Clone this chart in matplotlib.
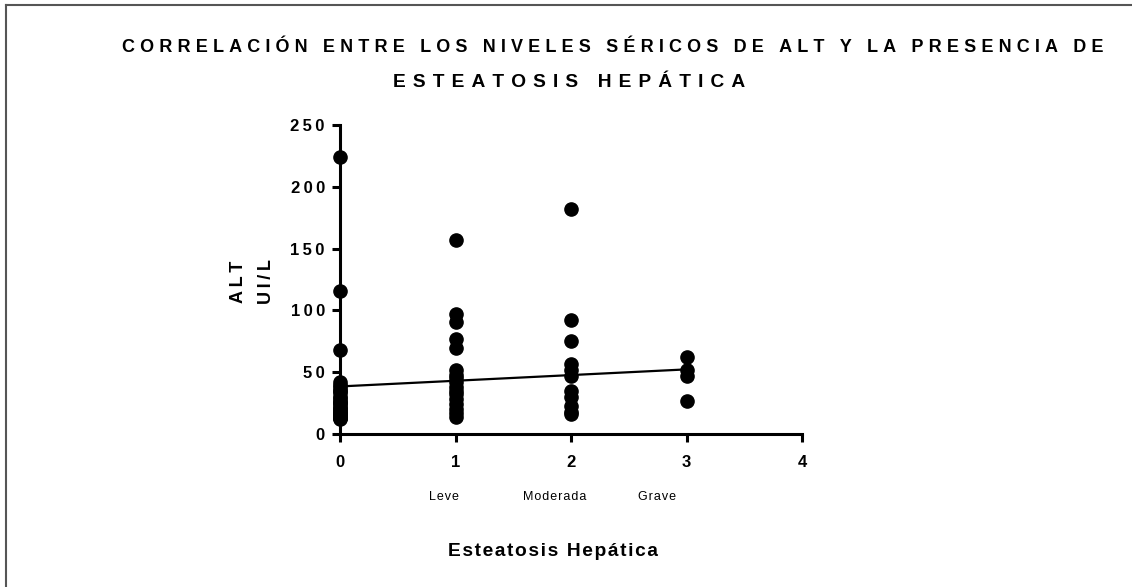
import matplotlib
matplotlib.use("Agg")
import numpy as np
from matplotlib import pyplot as plt
from matplotlib.lines import Line2D

# ALT (UI/L), one list per grade of steatosis
grade_0 = [224, 116, 68, 42, 40, 38, 36, 35, 33, 30, 29, 27, 26, 25, 24, 22, 21, 20, 19,
           18, 17, 16, 15, 14, 13, 13, 12]
grade_1 = [157, 97, 91, 77, 70, 52, 48, 45, 42, 38, 35, 32, 28, 24, 20, 17, 14]
grade_2 = [182, 92, 75, 57, 52, 47, 35, 30, 23, 18, 16]
grade_3 = [62, 52, 47, 27]
groups = [grade_0, grade_1, grade_2, grade_3]

# regression line as drawn in the picture
fit_intercept = 38.5
fit_slope = 4.6

x_ticks = [0, 1, 2, 3, 4]
y_ticks = [0, 50, 100, 150, 200, 250]
grade_names = ["Leve", "Moderada", "Grave"]
grade_name_pos = [0.9, 1.86, 2.74]

title_lines = ["CORRELACIÓN ENTRE LOS NIVELES SÉRICOS DE ALT Y LA PRESENCIA DE",
               "ESTEATOSIS HEPÁTICA"]

plt.rcParams["font.family"] = ["Liberation Sans", "DejaVu Sans"]


def spaced(s, gap="\u2009"):
    # prism style letter spacing
    return gap.join(s)


fig = plt.figure(figsize=(11.32, 5.87), dpi=100)
ax = fig.add_axes([0.3004, 0.2606, 0.4081, 0.5264])

for i, vals in enumerate(groups):
    ax.plot([i] * len(vals), vals, "o", color="black", markersize=9.5, clip_on=False)

xs = np.array([0, 3])
ax.plot(xs, fit_intercept + fit_slope * xs, color="black", lw=1.6)

ax.set_xlim(0, 4)
ax.set_ylim(0, 250)
ax.set_xticks(x_ticks)
ax.set_yticks(y_ticks)
ax.set_xticklabels([spaced(str(t)) for t in x_ticks])
ax.set_yticklabels([spaced(str(t)) for t in y_ticks])
for s in ["top", "right"]:
    ax.spines[s].set_visible(False)
for s in ["left", "bottom"]:
    ax.spines[s].set_linewidth(2.2)
ax.tick_params(width=2.2, length=6, direction="out", labelsize=12, pad=5)
for lab in ax.get_xticklabels() + ax.get_yticklabels():
    lab.set_fontweight("bold")
ax.tick_params(axis="x", pad=9)

for name, pos in zip(grade_names, grade_name_pos):
    ax.text(pos, -0.205, spaced(name, "\u200a"), transform=ax.get_xaxis_transform(),
            ha="center", va="center", fontsize=9)

fig.text(0.4885, 0.06, spaced("Esteatosis Hepática", "\u200a"), ha="center", va="center",
         fontsize=13.8, fontweight="bold")
fig.text(0.223, 0.520, spaced("ALT") + "\n" + spaced("UI/L"), rotation=90, ha="center",
         va="center", fontsize=13, fontweight="bold", linespacing=1.8)
fig.text(0.5415, 0.919, spaced(title_lines[0], "\u2009\u200a"), ha="center", va="center",
         fontsize=13, fontweight="bold")
fig.text(0.5025, 0.859, spaced(title_lines[1], "\u2009\u200a\u200a"), ha="center",
         va="center", fontsize=13.8, fontweight="bold")

# frame only on top and left, like the exported image
fig.add_artist(Line2D([0.0053, 0.0053], [0.0, 0.9915], transform=fig.transFigure,
                      color="#555555", lw=1.5))
fig.add_artist(Line2D([0.0053, 1.0], [0.9915, 0.9915], transform=fig.transFigure,
                      color="#555555", lw=1.5))

fig.savefig("out.png", dpi=100)
